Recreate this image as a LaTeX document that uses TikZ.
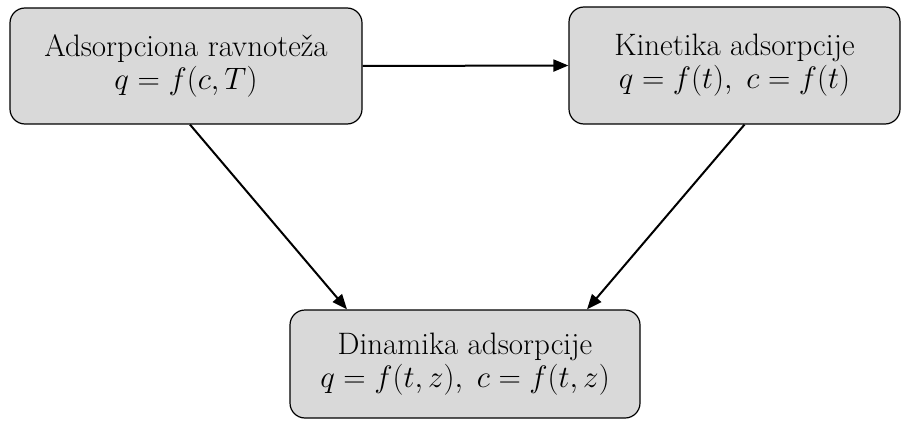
\RequirePackage{fix-cm}
\documentclass[tikz,border=0pt]{standalone}
\usetikzlibrary{arrows.meta,calc}
\begin{document}
\begin{tikzpicture}[x=1pt,y=1pt,
  box/.style={draw=black,line width=1.2pt,fill=boxgray,rounded corners=15pt,align=center,
    inner sep=0pt,font=\fontsize{31}{33}\selectfont},
  conn/.style={line width=2pt,-{Triangle[length=15pt,width=12pt]}}]
\definecolor{boxgray}{HTML}{D9D9D9}
\useasboundingbox (0,0) rectangle (910,-425);
\node[box,minimum width=352pt,minimum height=116pt] (b1) at (186,-66)
  {Adsorpciona ravnoteža\\$q = f(c,T)$};
\node[box,minimum width=331pt,minimum height=117pt] (b2) at (734.5,-65.5)
  {Kinetika adsorpcije\\$q = f(t),\; c = f(t)$};
\node[box,minimum width=350pt,minimum height=108pt] (b3) at (465,-364)
  {Dinamika adsorpcije\\$q = f(t,z),\; c = f(t,z)$};
\draw[conn] (b1.east) -- (b2.west);
\draw[conn] ([xshift=4pt]b1.south) -- ([xshift=-118pt]b3.north);
\draw[conn] ([xshift=10pt]b2.south) -- ([xshift=122pt]b3.north);
\end{tikzpicture}
\end{document}
